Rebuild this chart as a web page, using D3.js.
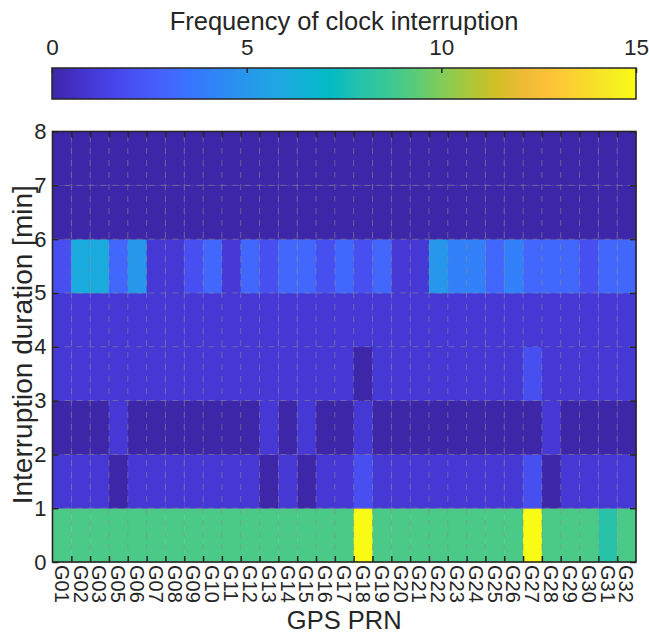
<!DOCTYPE html>
<html>
<head>
<meta charset="utf-8">
<script src="https://cdn.jsdelivr.net/npm/d3@7/dist/d3.min.js"></script>
<style>
  body { margin: 0; background: #ffffff; }
  text { font-family: "Liberation Sans", Arial, Helvetica, sans-serif; fill: #262626; }
</style>
</head>
<body>
<svg id="chart" width="649" height="633"></svg>
<script>
// GPS satellites (PRN) shown on the x axis
const prns = ["G01","G02","G03","G05","G06","G07","G08","G09","G10","G11",
              "G12","G13","G14","G15","G16","G17","G18","G19","G20","G21",
              "G22","G23","G24","G25","G26","G27","G28","G29","G30","G31","G32"];

// Interruption-duration bins [min], lower edges
const durationBins = [0, 1, 2, 3, 4, 5, 6, 7];
const durationTicks = [0, 1, 2, 3, 4, 5, 6, 7, 8];
const colorTicks = [0, 5, 10, 15];

// Frequency of clock interruptions per PRN, one array per duration bin
const freq0to1 = [9,9,9,9,9,9,9,9,9,9,9,9,9,9,9,9,15,9,9,9,9,9,9,9,9,15,9,9,9,8,9];
const freq1to2 = [1,1,1,0,1,1,1,1,1,1,1,0,1,0,1,1,2,1,1,1,1,1,1,1,1,2,0,1,1,1,1];
const freq2to3 = [0,0,0,1,0,0,0,0,0,0,0,1,0,1,0,0,1,0,0,0,0,0,0,0,0,0,1,0,0,0,0];
const freq3to4 = [1,1,1,1,1,1,1,1,1,1,1,1,1,1,1,1,0,1,1,1,1,1,1,1,1,2,1,1,1,1,1];
const freq4to5 = [1,1,1,1,1,1,1,1,1,1,1,1,1,1,1,1,1,1,1,1,1,1,1,1,1,1,1,1,1,1,1];
const freq5to6 = [2,6,6,3,5,1,1,2,3,1,3,2,3,3,2,3,2,3,1,1,5,4,4,3,4,3,3,3,2,3,3];
const freq6to7 = [0,0,0,0,0,0,0,0,0,0,0,0,0,0,0,0,0,0,0,0,0,0,0,0,0,0,0,0,0,0,0];
const freq7to8 = [0,0,0,0,0,0,0,0,0,0,0,0,0,0,0,0,0,0,0,0,0,0,0,0,0,0,0,0,0,0,0];

const freqByBin = [freq0to1, freq1to2, freq2to3, freq3to4, freq4to5, freq5to6, freq6to7, freq7to8];

// Parula colour map (sampled stops)
const parula = [
  [0.2422,0.1504,0.6603],[0.2647,0.1978,0.7952],[0.2783,0.2559,0.8991],[0.2810,0.3228,0.9579],
  [0.2699,0.3892,0.9906],[0.2206,0.4603,0.9973],[0.1786,0.5289,0.9682],[0.1540,0.5902,0.9218],
  [0.1248,0.6459,0.8883],[0.0689,0.6948,0.8394],[0.0067,0.7296,0.7660],[0.1408,0.7584,0.6842],
  [0.2161,0.7843,0.5923],[0.3406,0.8008,0.4789],[0.5044,0.7993,0.3480],[0.6720,0.7793,0.2227],
  [0.8203,0.7498,0.1535],[0.9393,0.7288,0.2100],[0.9970,0.7659,0.2199],[0.9786,0.8386,0.1766],
  [0.9597,0.9135,0.1423],[0.9769,0.9839,0.0805]
].map(c => d3.rgb(c[0]*255, c[1]*255, c[2]*255).formatHex());

const cMin = 0, cMax = 15;
const color = d3.scaleLinear()
  .domain(parula.map((_, i) => cMin + (cMax - cMin) * i / (parula.length - 1)))
  .range(parula)
  .interpolate(d3.interpolateRgb)
  .clamp(true);

const svg = d3.select("#chart");
const axisColor = "#262626";
const fontFamily = '"Liberation Sans", Arial, sans-serif';

// Plot area
const plot = { left: 52.5, right: 636, top: 131.5, bottom: 562 };
const x = d3.scaleBand().domain(prns).range([plot.left, plot.right]).paddingInner(0).paddingOuter(0);
const xEdge = d3.scaleLinear().domain([0, prns.length]).range([plot.left, plot.right]);
const y = d3.scaleLinear().domain([0, 8]).range([plot.bottom, plot.top]);

// Cells
const cells = [];
durationBins.forEach((b, bi) => {
  prns.forEach((p, pi) => cells.push({ prn: p, lo: b, hi: b + 1, v: freqByBin[bi][pi] }));
});
svg.append("g").selectAll("rect").data(cells).join("rect")
  .attr("x", d => x(d.prn))
  .attr("y", d => y(d.hi))
  .attr("width", x.bandwidth() + 0.4)
  .attr("height", d => y(d.lo) - y(d.hi) + 0.4)
  .attr("fill", d => color(d.v));

// Dashed grid
const grid = svg.append("g").attr("stroke", "#8c8c8c").attr("stroke-opacity", 0.55)
  .attr("stroke-width", 1).attr("stroke-dasharray", "6,6");
const edgeIdx = d3.range(1, prns.length);
grid.selectAll("line.v").data(edgeIdx).join("line").attr("class", "v")
  .attr("x1", d => xEdge(d)).attr("x2", d => xEdge(d))
  .attr("y1", plot.bottom).attr("y2", plot.top);
grid.selectAll("line.h").data(d3.range(1, 8)).join("line").attr("class", "h")
  .attr("x1", plot.left).attr("x2", plot.right)
  .attr("y1", d => y(d)).attr("y2", d => y(d));

// Axes: ticks on column edges, inward
const tickLen = 6;
const bottomAxis = d3.axisBottom(xEdge).tickValues(edgeIdx).tickSizeInner(-tickLen).tickSizeOuter(0).tickFormat("");
const topAxis = d3.axisTop(xEdge).tickValues(edgeIdx).tickSizeInner(-tickLen).tickSizeOuter(0).tickFormat("");
const leftAxis = d3.axisLeft(y).tickValues(durationTicks).tickSizeInner(-tickLen).tickSizeOuter(0).tickPadding(10);
const rightAxis = d3.axisRight(y).tickValues(durationTicks).tickSizeInner(-tickLen).tickSizeOuter(0).tickFormat("");

function styleAxis(g) {
  g.select(".domain").remove();
  g.selectAll(".tick line").attr("stroke", axisColor).attr("stroke-width", 1.5);
}
svg.append("g").attr("transform", `translate(0,${plot.bottom})`).call(bottomAxis).call(styleAxis);
svg.append("g").attr("transform", `translate(0,${plot.top})`).call(topAxis).call(styleAxis);
const gl = svg.append("g").attr("transform", `translate(${plot.left},0)`).call(leftAxis).call(styleAxis);
gl.selectAll(".tick text").attr("font-size", 22).attr("fill", axisColor)
  .style("font-family", fontFamily).attr("x", -6);
svg.append("g").attr("transform", `translate(${plot.right},0)`).call(rightAxis).call(styleAxis);

// Box
svg.append("rect").attr("x", plot.left).attr("y", plot.top)
  .attr("width", plot.right - plot.left).attr("height", plot.bottom - plot.top)
  .attr("fill", "none").attr("stroke", axisColor).attr("stroke-width", 1.6);

// PRN labels, rotated to read downwards
svg.append("g").selectAll("text").data(prns).join("text")
  .attr("transform", d => `translate(${x(d) + x.bandwidth() / 2},${plot.bottom + 3}) rotate(90)`)
  .attr("dy", "0.36em")
  .attr("text-anchor", "start")
  .attr("font-size", 20)
  .text(d => d);

// Axis titles
svg.append("text").attr("x", (plot.left + plot.right) / 2).attr("y", 629)
  .attr("text-anchor", "middle").attr("font-size", 25.5).text("GPS PRN");
svg.append("text").attr("transform", `translate(32,${(plot.top + plot.bottom) / 2 - 2}) rotate(-90)`)
  .attr("text-anchor", "middle").attr("font-size", 28).text("Interruption duration [min]");

// Colour bar
const cb = { left: 52, right: 636, top: 68, bottom: 99 };
const cx = d3.scaleLinear().domain([cMin, cMax]).range([cb.left, cb.right]);
const defs = svg.append("defs");
const grad = defs.append("linearGradient").attr("id", "parulaGrad");
parula.forEach((c, i) => grad.append("stop")
  .attr("offset", `${100 * i / (parula.length - 1)}%`).attr("stop-color", c));
svg.append("rect").attr("x", cb.left).attr("y", cb.top)
  .attr("width", cb.right - cb.left).attr("height", cb.bottom - cb.top)
  .attr("fill", "url(#parulaGrad)").attr("stroke", axisColor).attr("stroke-width", 1.5);
const cbAxis = d3.axisTop(cx).tickValues(colorTicks).tickSizeInner(-5).tickSizeOuter(0).tickPadding(13);
const gcb = svg.append("g").attr("transform", `translate(0,${cb.top})`).call(cbAxis).call(styleAxis);
gcb.selectAll(".tick text").attr("font-size", 22.5).attr("fill", axisColor)
  .style("font-family", fontFamily);
svg.append("text").attr("x", (cb.left + cb.right) / 2).attr("y", 30)
  .attr("text-anchor", "middle").attr("font-size", 25.5).text("Frequency of clock interruption");
</script>
</body>
</html>
